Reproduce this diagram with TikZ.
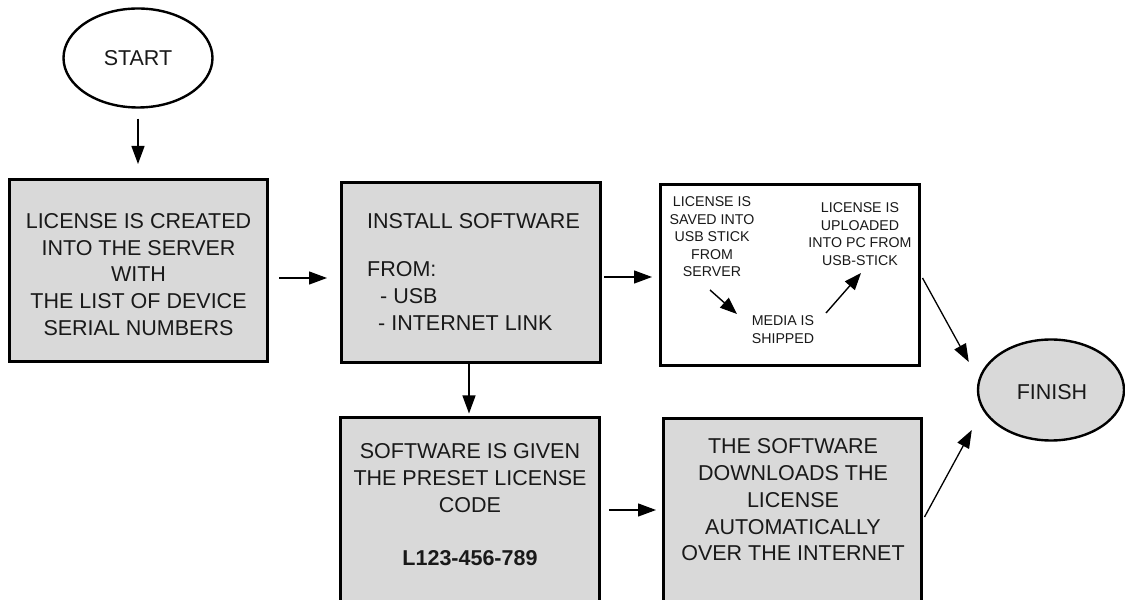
\documentclass[tikz,border=0pt]{standalone}
\usepackage{fontspec}
\setmainfont{Liberation Sans}
\usetikzlibrary{shapes.geometric,arrows.meta}
\definecolor{boxgray}{HTML}{D9D9D9}
\begin{document}
\begin{tikzpicture}[x=1pt,y=1pt,
  box/.style={draw=black, line width=3pt, rectangle, inner sep=0pt},
  oval/.style={draw=black, line width=2.4pt, ellipse, inner sep=0pt},
  big/.style={font=\fontsize{21.5}{26.75}\selectfont, inner sep=0pt, text=black!90},
  small/.style={font=\fontsize{14.2}{17.5}\selectfont, inner sep=0pt, align=center, text=black!90},
  arr/.style={line width=1.3pt, -{Triangle[length=18pt,width=13pt]}},
  iarr/.style={line width=1.4pt, -{Triangle[length=17pt,width=13pt]}}
]
\useasboundingbox (0,0) rectangle (1125,600);
\clip (0,0) rectangle (1125,600);

% shapes
\node[oval, fill=white, minimum width=149pt, minimum height=99pt] (start) at (138,542) {};
\node[oval, fill=boxgray, minimum width=146pt, minimum height=101pt] (finish) at (1051,210) {};
\node[box, fill=boxgray, minimum width=258pt, minimum height=182pt] (box1) at (138.5,329.5) {};
\node[box, fill=boxgray, minimum width=259pt, minimum height=180pt] (box2) at (471,327.5) {};
\node[box, fill=white, minimum width=259pt, minimum height=181pt] (box3) at (790,325) {};
\node[box, fill=boxgray, minimum width=259pt, minimum height=192pt] (box4) at (470,86) {};
\node[box, fill=boxgray, minimum width=258pt, minimum height=191pt] (box5) at (792.5,85.5) {};

% texts
\node[big] (tstart) at (138,542) {START};
\node[big] (tfinish) at (1052,208) {FINISH};
\node[big, align=center] (t1) at (138.5,325.5) {LICENSE IS CREATED\\INTO THE SERVER\\WITH\\THE LIST OF DEVICE\\SERIAL NUMBERS};
\node[big, align=left, anchor=west] (t2) at (367,328) {INSTALL SOFTWARE\\[21pt]FROM:\\\hspace*{13pt}- USB\\\hspace*{11pt}- INTERNET LINK};
\node[small] (t31) at (712,363) {LICENSE IS\\SAVED INTO\\USB STICK\\FROM\\SERVER};
\node[small] (t32) at (860,366) {LICENSE IS\\UPLOADED\\INTO PC FROM\\USB-STICK};
\node[small] (t33) at (783,270.5) {MEDIA IS\\SHIPPED};
\node[big, align=center] (t4) at (470,95) {SOFTWARE IS GIVEN\\THE PRESET LICENSE\\CODE\\[26.75pt]\textbf{L123-456-789}};
\node[big, align=center] (t5) at (793,100) {THE SOFTWARE\\DOWNLOADS THE\\LICENSE\\AUTOMATICALLY\\OVER THE INTERNET};

% connectors
\draw[arr] ([yshift=-10pt]start.south) -- ([yshift=14pt]start.south |- box1.north);
\draw[arr] ([xshift=10pt,yshift=-7.5pt]box1.east) -- ([xshift=-13pt,yshift=-5.5pt]box2.west);
\draw[arr] ([xshift=2pt,yshift=-4.5pt]box2.east) -- ([xshift=-7pt,yshift=-2pt]box3.west);
\draw[arr] ([xshift=-2pt]box2.south) -- ([xshift=-1pt,yshift=3pt]box4.north);
\draw[arr] ([xshift=8pt,yshift=4pt]box4.east) -- ([xshift=-6pt,yshift=4.5pt]box5.west);
\draw[arr] ([xshift=1.5pt,yshift=-3pt]box3.east) -- ([xshift=-8pt,yshift=28pt]finish.west);
\draw[arr] ([xshift=1.5pt,yshift=-2.5pt]box5.east) -- ([xshift=-5pt,yshift=-40pt]finish.west);

% inner arrows
\coordinate (a1s) at (710,310);
\coordinate (a1e) at (737,286);
\coordinate (a2s) at (826,287);
\coordinate (a2e) at (861,327);
\draw[iarr] (a1s) -- (a1e);
\draw[iarr] (a2s) -- (a2e);
\end{tikzpicture}
\end{document}
